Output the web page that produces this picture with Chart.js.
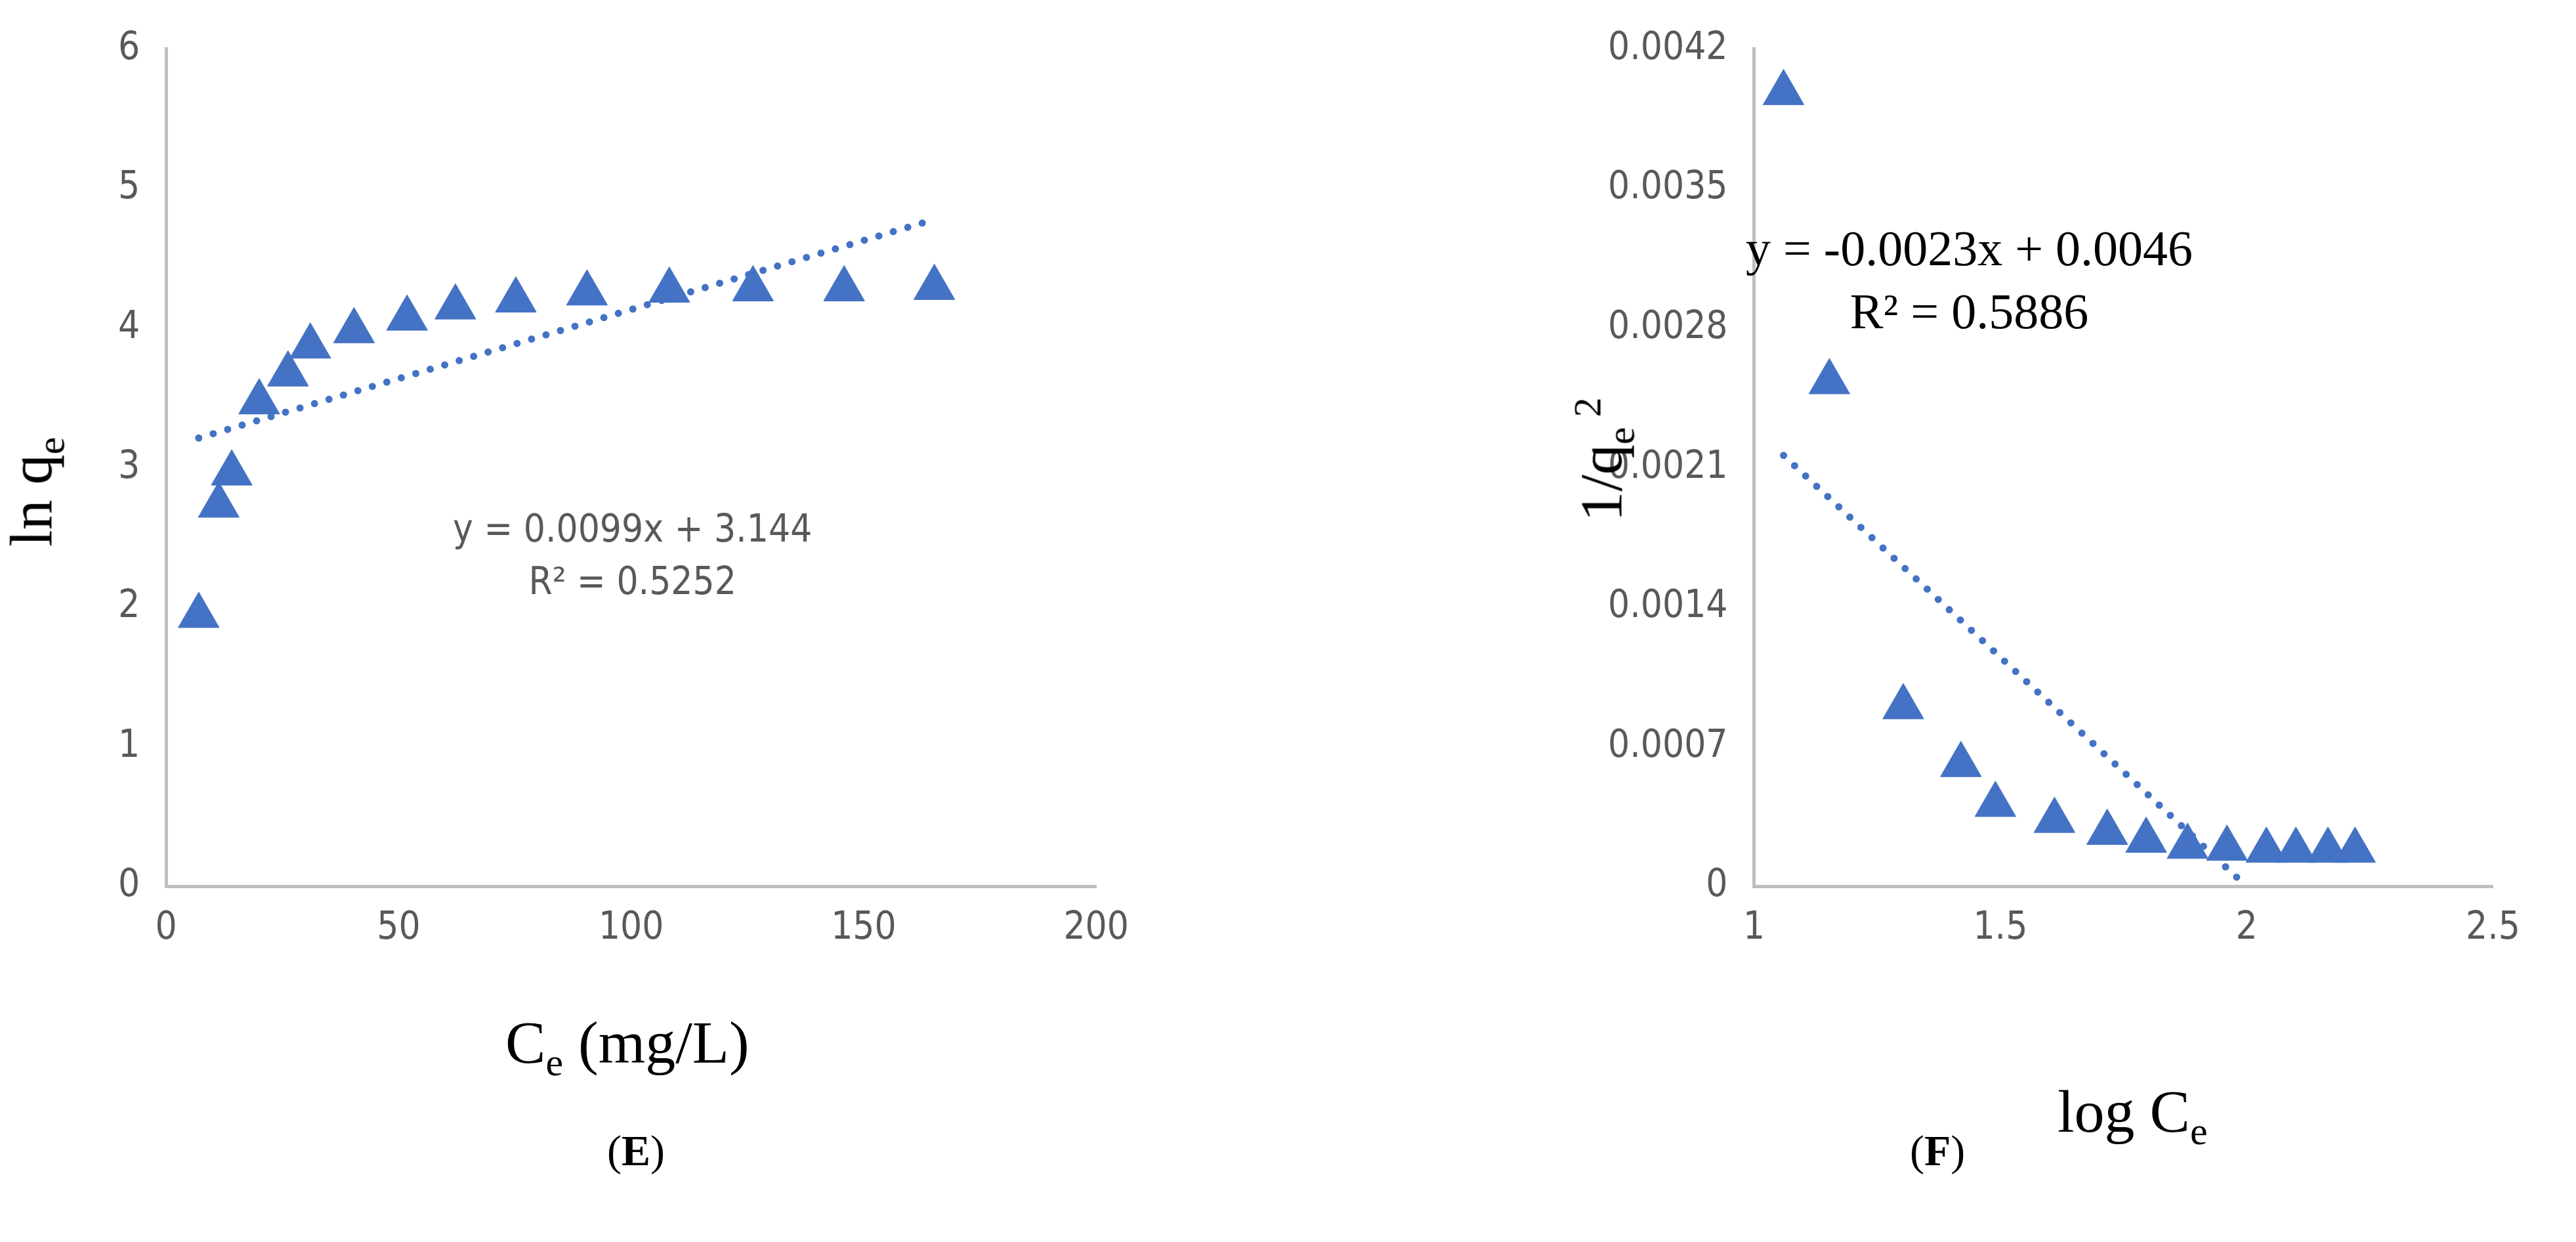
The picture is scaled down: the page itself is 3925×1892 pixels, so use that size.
<!DOCTYPE html>
<html>
<head>
<meta charset="utf-8">
<script src="https://cdn.jsdelivr.net/npm/chart.js@4"></script>
<style>
body { margin: 0; background: #fff; width: 3925px; height: 1892px; position: relative; overflow: hidden; }
.box { position: absolute; }
.ttl { position: absolute; font-family: "Liberation Serif", serif; font-size: 92px; color: #000; white-space: nowrap; }
.ttl sub { font-size: 60px; }
.eq { position: absolute; text-align: center; white-space: nowrap; }
.lab { position: absolute; font-family: "Liberation Serif", serif; font-size: 66px; }
</style>
</head>
<body>
<div class="box" style="left:90px;top:0;width:1660px;height:1540px"><canvas id="chartE"></canvas></div>
<div class="box" style="left:2410px;top:0;width:1460px;height:1540px"><canvas id="chartF"></canvas></div>

<div class="ttl" style="left:770px;top:1535px">C<sub>e</sub> (mg/L)</div>
<div class="ttl" style="left:-30px;top:690px;transform:rotate(-90deg);transform-origin:center">ln q<sub>e</sub></div>
<div class="ttl" style="left:3135px;top:1640px">log C<sub>e</sub></div>
<div class="ttl" style="left:2350px;top:640px;transform:rotate(-90deg);transform-origin:center">1/q<sub>e</sub><sup style="font-size:60px">&nbsp;2</sup></div>

<div class="eq" style="left:690px;top:765px;font-family:'DejaVu Sans Condensed',sans-serif;font-size:58px;color:#595959;line-height:80px">y = 0.0099x + 3.144<br>R² = 0.5252</div>
<div class="eq" style="left:2660px;top:330px;font-family:'Liberation Serif',serif;font-size:76px;color:#000;line-height:96px">y = -0.0023x + 0.0046<br>R² = 0.5886</div>

<div class="lab" style="left:925px;top:1715px">(<b>E</b>)</div>
<div class="lab" style="left:2910px;top:1715px">(<b>F</b>)</div>

<script>
// panel E: ln qe vs Ce
var ceE = [7.0, 11.3, 14.1, 20, 26.2, 31, 40.4, 51.8, 62.2, 75.2, 90.5, 108.2, 126.2, 145.8, 165.2];
var lnQe = [1.94, 2.73, 2.96, 3.47, 3.67, 3.87, 3.98, 4.07, 4.15, 4.2, 4.25, 4.27, 4.28, 4.28, 4.29];
var slopeE = 0.0099, interceptE = 3.144;

// panel F: 1/qe^2 vs log Ce
var logCe = [1.06, 1.153, 1.303, 1.42, 1.49, 1.61, 1.717, 1.796, 1.88, 1.96, 2.04, 2.10, 2.165, 2.22];
var invQe2 = [0.00398, 0.00253, 0.0009, 0.00061, 0.00041, 0.00033, 0.00027, 0.00023, 0.0002, 0.00019, 0.00018, 0.00018, 0.00018, 0.00018];
var slopeF = -0.0023, interceptF = 0.0046;
var trendF_end = 2.0;

var blue = '#4472C4';
var grey = '#595959';
var tickFont = { family: 'DejaVu Sans Condensed', size: 58 };

function pts(xs, ys) {
    return xs.map(function (x, i) { return { x: x, y: ys[i] }; });
}

function trend(x0, x1, m, b) {
    return [{ x: x0, y: m * x0 + b }, { x: x1, y: m * x1 + b }];
}

function makeChart(id, data, line, xs, ys, leftPad, rightPad) {
    return new Chart(document.getElementById(id), {
        type: 'scatter',
        data: {
            datasets: [
                {
                    data: data,
                    pointStyle: 'triangle',
                    pointRadius: 36,
                    backgroundColor: blue,
                    borderColor: blue,
                    borderWidth: 1
                },
                {
                    type: 'line',
                    data: line,
                    showLine: true,
                    pointRadius: 0,
                    borderColor: blue,
                    borderWidth: 11,
                    borderDash: [0, 23],
                    borderCapStyle: 'round',
                    fill: false
                }
            ]
        },
        options: {
            responsive: true,
            maintainAspectRatio: false,
            animation: false,
            layout: { padding: { left: leftPad, right: rightPad, top: 50, bottom: 60 } },
            plugins: { legend: { display: false }, tooltip: { enabled: false } },
            scales: {
                x: Object.assign({
                    type: 'linear',
                    grid: { display: false, drawTicks: false },
                    border: { color: '#bfbfbf', width: 5 }
                }, xs),
                y: Object.assign({
                    type: 'linear',
                    grid: { display: false, drawTicks: false },
                    border: { color: '#bfbfbf', width: 5 }
                }, ys)
            }
        }
    });
}

makeChart('chartE', pts(ceE, lnQe), trend(ceE[0], ceE[ceE.length - 1], slopeE, interceptE),
    { min: 0, max: 200, ticks: { color: grey, font: tickFont, padding: 30, stepSize: 50 } },
    { min: 0, max: 6, ticks: { color: grey, font: tickFont, padding: 40, stepSize: 1 } }, 50, 50);

makeChart('chartF', pts(logCe, invQe2), trend(logCe[0], trendF_end, slopeF, interceptF),
    { min: 1, max: 2.5, ticks: { color: grey, font: tickFont, padding: 30, stepSize: 0.5,
        callback: function (v) { return String(+v.toFixed(1)); } } },
    { min: 0, max: 0.0042, ticks: { color: grey, font: tickFont, padding: 40, stepSize: 0.0007,
        callback: function (v) { return v === 0 ? '0' : v.toFixed(4); } } }, 0, 60);
</script>
</body>
</html>
